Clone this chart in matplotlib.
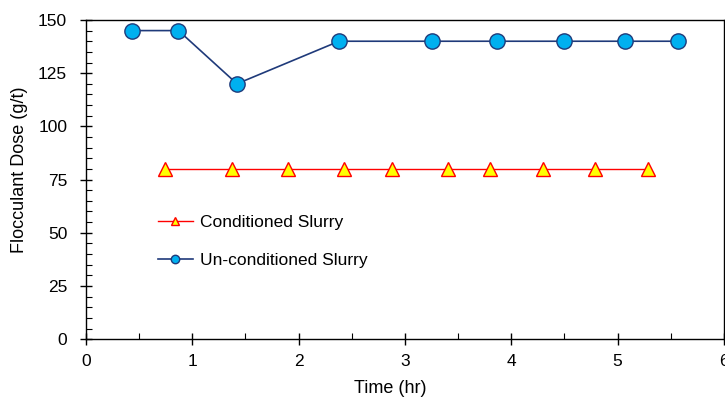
import matplotlib.pyplot as plt
from matplotlib.ticker import MultipleLocator

plt.rcParams['font.family'] = ['Liberation Sans', 'DejaVu Sans']

# conditioned slurry
cond_time = [0.74, 1.37, 1.90, 2.43, 2.88, 3.40, 3.80, 4.30, 4.79, 5.29]
cond_dose = [80, 80, 80, 80, 80, 80, 80, 80, 80, 80]

# un-conditioned slurry
uncond_time = [0.43, 0.87, 1.42, 2.38, 3.25, 3.87, 4.50, 5.07, 5.57]
uncond_dose = [145, 145, 120, 140, 140, 140, 140, 140, 140]

fig = plt.figure(figsize=(7.25, 3.99), dpi=100)
ax = fig.add_axes([0.1186, 0.150, 0.8800, 0.800])

ax.plot(cond_time, cond_dose, '-', color='#ff0000', lw=1.0,
        marker='^', ms=10.5, mfc='#ffff00', mec='#ff0000', mew=1.0,
        label='Conditioned Slurry')
ax.plot(uncond_time, uncond_dose, '-', color='#1f3a7a', lw=1.2,
        marker='o', ms=11, mfc='#00b0f0', mec='#1f3a7a', mew=1.0,
        label='Un-conditioned Slurry')

ax.set_xlim(0, 6)
ax.set_ylim(0, 150)
ax.xaxis.set_major_locator(MultipleLocator(1))
ax.xaxis.set_minor_locator(MultipleLocator(0.5))
ax.yaxis.set_major_locator(MultipleLocator(25))
ax.yaxis.set_minor_locator(MultipleLocator(5))
ax.tick_params(which='major', direction='inout', length=9, width=1.0,
               labelsize=12.5)
ax.tick_params(axis='x', which='major', pad=6.5)
ax.tick_params(axis='y', which='major', pad=9)
ax.tick_params(which='minor', direction='in', length=4, width=0.8)
for s in ax.spines.values():
    s.set_linewidth(1.0)

ax.set_xlabel('Time (hr)', fontsize=13, va='top')
ax.xaxis.set_label_coords(0.4765, -0.1285)
ax.set_ylabel('Flocculant Dose (g/t)', fontsize=13)
ax.yaxis.set_label_coords(-0.091, 0.53)

ax.legend(loc='upper left', bbox_to_anchor=(0.1129, 0.39), frameon=False,
          fontsize=12.5, markerscale=0.55, handlelength=2.0,
          handletextpad=0.4, labelspacing=1.35, borderpad=0,
          borderaxespad=0)

plt.savefig('out.png')
plt.close()
